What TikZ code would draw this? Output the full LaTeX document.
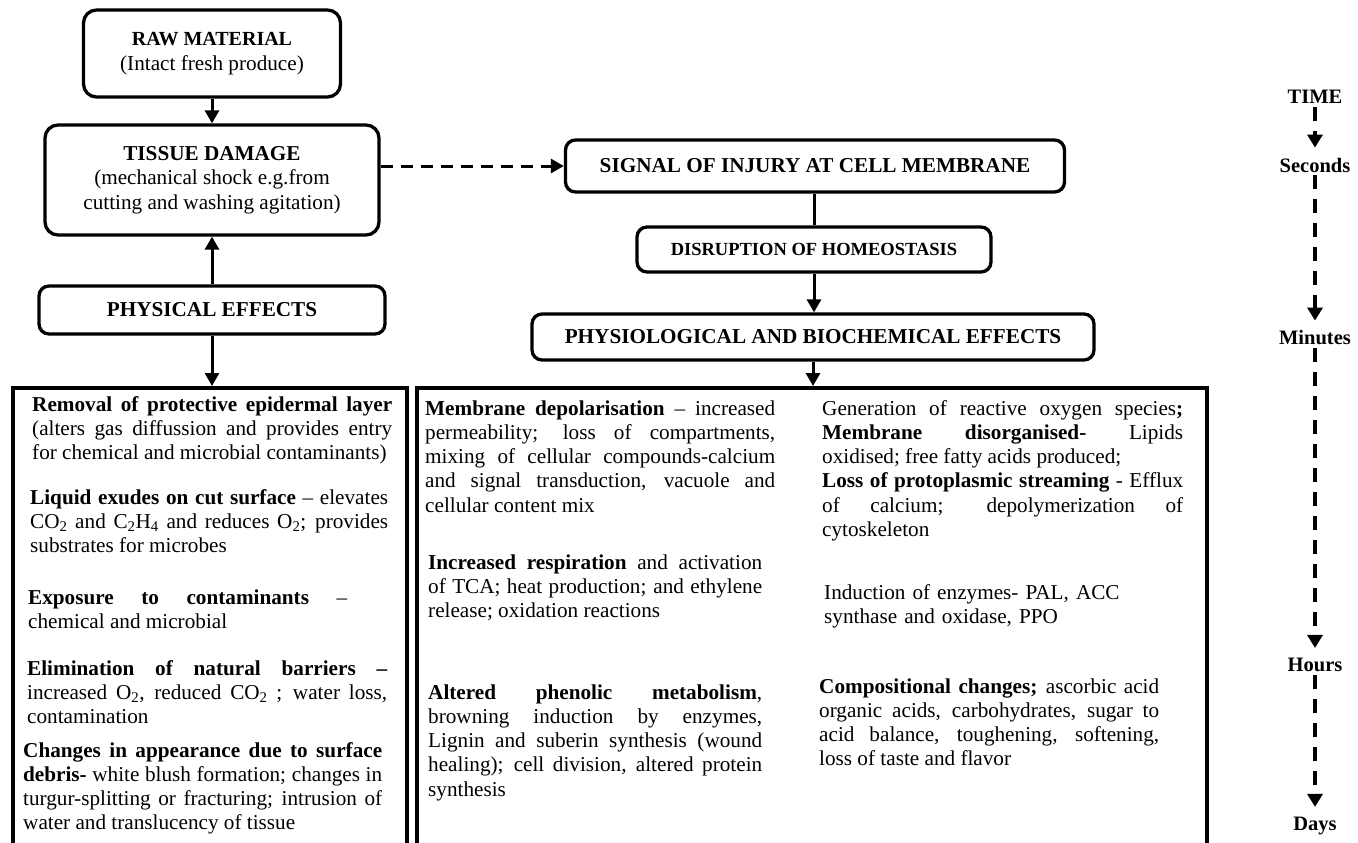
\documentclass[tikz,border=0pt]{standalone}
\usepackage{fontspec}
\setmainfont{Liberation Serif}
\usetikzlibrary{arrows.meta}
\hyphenpenalty=10000
\exhyphenpenalty=10000
\tolerance=10000
\newcommand\bodyfont{\fontsize{21.2}{24.3}\selectfont}
\newcommand\boxfont{\fontsize{21.2}{24.5}\selectfont}
\newcommand\timefont{\fontsize{20.5}{24}\selectfont\bfseries}
\tikzset{
  fbox/.style={draw, line width=3.3pt, rounded corners=10pt, align=center, inner sep=0pt, font=\boxfont},
  bigbox/.style={draw, line width=3.6pt, inner sep=0pt, anchor=north west},
  arr/.style={line width=3pt, -{Triangle[width=14pt,length=13pt]}},
  plainline/.style={line width=3pt},
  dasharr/.style={arr, dash pattern=on 12pt off 8pt},
  tarr/.style={line width=4.5pt, dash pattern=on 14pt off 10pt, shorten >=7pt, -{Triangle[width=15pt,length=13pt]}},
  para/.style={anchor=base west, inner sep=0pt, align=justify, font=\bodyfont},
  ragged/.style={anchor=base west, inner sep=0pt, align=left, font=\bodyfont},
  tlabel/.style={font=\timefont, inner sep=3pt}
}
\begin{document}
\begin{tikzpicture}[x=1pt,y=-1pt]
\clip (0,0) rectangle (1358,843);
\fill[white] (0,0) rectangle (1358,843);

% left flow
\node[fbox, rounded corners=13pt, minimum width=257pt, minimum height=87pt] (raw) at (212,53.5)
  {{\fontsize{20}{24.5}\selectfont\bfseries RAW MATERIAL}\\(Intact fresh produce)};
\node[fbox, rounded corners=13pt, minimum width=334pt, minimum height=110pt] (tissue) at (212,180)
  {\textbf{TISSUE DAMAGE}\\(mechanical shock e.g.from\\cutting and washing agitation)};
\node[fbox, minimum width=346pt, minimum height=48pt] (phys) at (212,310) {\textbf{PHYSICAL EFFECTS}};

% right flow
\node[fbox, minimum width=499pt, minimum height=52pt] (signal) at (815,166) {\textbf{SIGNAL OF INJURY AT CELL MEMBRANE}};
\node[fbox, minimum width=354pt, minimum height=45pt, font=\fontsize{18.5}{22}\selectfont] (disr) at (814,249.5) {\textbf{DISRUPTION OF HOMEOSTASIS}};
\node[fbox, minimum width=562pt, minimum height=46pt] (physio) at (813,337) {\textbf{PHYSIOLOGICAL AND BIOCHEMICAL EFFECTS}};

% big open boxes
\node[bigbox, minimum width=394pt, minimum height=520pt] (lbox) at (11,386) {};
\node[bigbox, minimum width=790pt, minimum height=520pt] (mbox) at (415,386) {};

% connectors
\draw[arr] (raw.south) -- (tissue.north);
\draw[arr] (phys.north) -- (tissue.south);
\draw[arr] (phys.south) -- (phys.south |- lbox.north);
\draw[dasharr] (tissue.east |- signal.west) -- (signal.west);
\draw[plainline] (signal.south -| disr.north) -- (disr.north);
\draw[arr] (disr.south) -- (disr.south |- physio.north);
\draw[arr] (physio.south) -- (physio.south |- mbox.north);

% left column text
\node[para, text width=360pt] (t1) at (32,411)
 {\textbf{Removal of protective epidermal layer}\linebreak (alters gas diffussion and provides entry\linebreak for chemical and microbial contaminants)};
\node[para, text width=358pt] (t2) at (30,504)
 {\textbf{Liquid exudes on cut surface} -- elevates\linebreak CO\textsubscript{2} and C\textsubscript{2}H\textsubscript{4} and reduces O\textsubscript{2}; provides\linebreak substrates for microbes};
\node[para, text width=319pt] (t3) at (28,604)
 {\textbf{Exposure to contaminants} --\linebreak chemical and microbial};
\node[para, text width=360pt] (t4) at (27,675)
 {\textbf{Elimination of natural barriers --}\linebreak increased O\textsubscript{2}, reduced CO\textsubscript{2} ; water loss,\linebreak contamination};
\node[para, text width=359pt] (t5) at (23,757)
 {\textbf{Changes in appearance due to surface}\linebreak \textbf{debris-} white blush formation; changes in\linebreak turgur-splitting or fracturing; intrusion of\linebreak water and translucency of tissue};

% middle column text
\node[para, text width=350pt] (m1) at (425,415)
 {\textbf{Membrane depolarisation} -- increased\linebreak permeability; loss of compartments,\linebreak mixing of cellular compounds-calcium\linebreak and signal transduction, vacuole and\linebreak cellular content mix};
\node[para, text width=334pt] (m2) at (428,569)
 {\textbf{Increased respiration} and activation\linebreak of TCA; heat production; and ethylene\linebreak release; oxidation reactions};
\node[para, text width=334pt] (m3) at (428,699)
 {\textbf{Altered phenolic metabolism},\linebreak browning induction by enzymes,\linebreak Lignin and suberin synthesis (wound\linebreak healing); cell division, altered protein\linebreak synthesis};

% right column text
\node[para, text width=361pt] (r1) at (822,415)
 {Generation of reactive oxygen species\textbf{;}\linebreak \textbf{Membrane disorganised-} Lipids\linebreak oxidised; free fatty acids produced;\newline \textbf{Loss of protoplasmic streaming} - Efflux\linebreak of calcium; depolymerization of\linebreak cytoskeleton};
\node[ragged, text width=340pt] (r2) at (824,599)
 {Induction of enzymes- PAL, ACC\newline synthase and oxidase, PPO};
\node[para, text width=340pt] (r3) at (819,693)
 {\textbf{Compositional changes;} ascorbic acid\linebreak organic acids, carbohydrates, sugar to\linebreak acid balance, toughening, softening,\linebreak loss of taste and flavor};

% time column
\node[tlabel] (time) at (1315,97) {TIME};
\node[tlabel] (sec) at (1315,165) {Seconds};
\node[tlabel] (min) at (1315,338) {Minutes};
\node[tlabel] (hrs) at (1315,665) {Hours};
\node[tlabel] (days) at (1315,826) {Days};
\draw[tarr] (time.south) -- (sec.north);
\draw[tarr] (sec.south) -- (min.north);
\draw[tarr] (min.south) -- (hrs.north);
\draw[tarr] (hrs.south) -- (days.north);
\end{tikzpicture}
\end{document}
